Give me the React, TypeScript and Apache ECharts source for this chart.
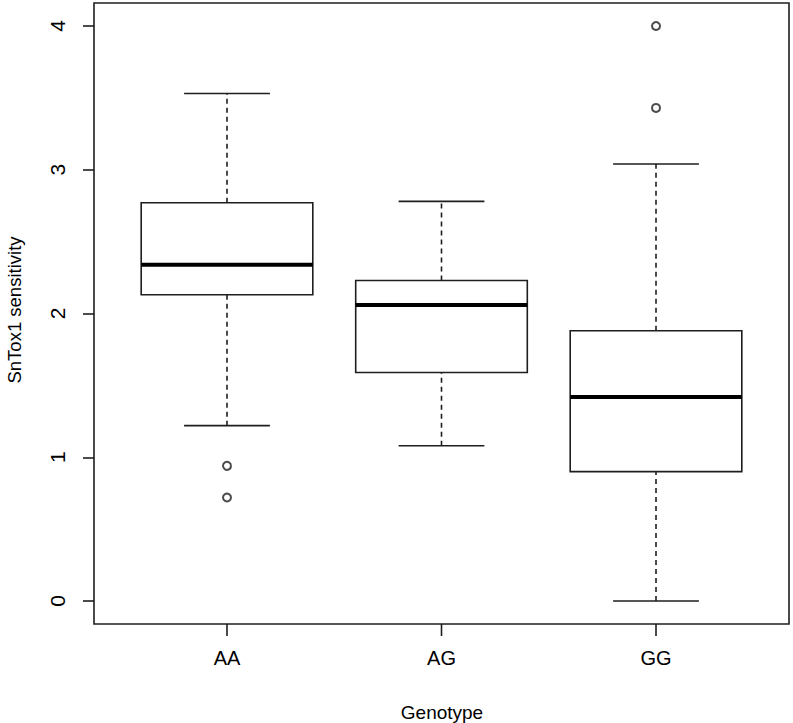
import React, { useEffect, useRef } from "react";
import * as echarts from "echarts";

const categories = ["AA", "AG", "GG"];
const lowerWhisker = [1.22, 1.08, 0.0];
const q1 = [2.13, 1.59, 0.9];
const median = [2.34, 2.06, 1.42];
const q3 = [2.77, 2.23, 1.88];
const upperWhisker = [3.53, 2.78, 3.04];
const outlierGroup = [1, 1, 3, 3];
const outlierValues = [0.94, 0.72, 4.0, 3.43];
const yTicks = [0, 1, 2, 3, 4];
const xTicks = [1, 2, 3];

const X_MIN = 0.38;
const X_MAX = 3.62;
const Y_MIN = -0.16;
const Y_MAX = 4.16;
const INK = "#1e1e1e";
const FONT = "'Liberation Sans', Arial, sans-serif";

export default function App() {
  const ref = useRef<HTMLDivElement>(null);

  useEffect(() => {
    if (!ref.current) return;
    const chart = echarts.init(ref.current, null, { renderer: "svg" });

    const boxData = categories.map((_, i) => [
      i + 1,
      lowerWhisker[i],
      q1[i],
      median[i],
      q3[i],
      upperWhisker[i],
    ]);
    const outlierData = outlierValues.map((v, i) => [outlierGroup[i], v]);

    const renderItem = (params: any, api: any) => {
      const x = api.value(0);
      const lo = api.coord([x, api.value(1)]);
      const b1 = api.coord([x, api.value(2)]);
      const md = api.coord([x, api.value(3)]);
      const b3 = api.coord([x, api.value(4)]);
      const hi = api.coord([x, api.value(5)]);
      const half = api.size([0.8, 0])[0] / 2;
      const capHalf = half / 2;
      const cx = lo[0];
      const solid = () => ({ stroke: INK, lineWidth: 1.6, fill: "none" });
      const dashed = () => ({ stroke: INK, lineWidth: 1.6, lineDash: [5, 4], fill: "none" });
      return {
        type: "group",
        children: [
          { type: "line", shape: { x1: cx, y1: lo[1], x2: cx, y2: b1[1] }, style: dashed() },
          { type: "line", shape: { x1: cx, y1: b3[1], x2: cx, y2: hi[1] }, style: dashed() },
          { type: "line", shape: { x1: cx - capHalf, y1: lo[1], x2: cx + capHalf, y2: lo[1] }, style: solid() },
          { type: "line", shape: { x1: cx - capHalf, y1: hi[1], x2: cx + capHalf, y2: hi[1] }, style: solid() },
          {
            type: "rect",
            shape: { x: cx - half, y: b3[1], width: half * 2, height: b1[1] - b3[1] },
            style: { stroke: INK, lineWidth: 1.6, fill: "#ffffff" },
          },
          {
            type: "line",
            shape: { x1: cx - half, y1: md[1], x2: cx + half, y2: md[1] },
            style: { stroke: "#000", lineWidth: 4 },
          },
        ],
      };
    };

    // tick marks live in a thin second grid directly under the frame
    const renderTick = (params: any, api: any) => {
      const x = api.value(0);
      const top = api.coord([x, 1]);
      const bottom = api.coord([x, 0]);
      return {
        type: "rect",
        shape: { x: top[0] - 0.8, y: top[1], width: 1.6, height: bottom[1] - top[1] },
        style: { fill: INK },
      };
    };

    chart.setOption({
      animation: false,
      backgroundColor: "#ffffff",
      textStyle: { fontFamily: FONT },
      grid: [
        {
          left: 94,
          right: 4,
          top: 3,
          bottom: 99,
          show: true,
          borderColor: INK,
          borderWidth: 1.6,
          backgroundColor: "transparent",
        },
        {
          left: 94,
          right: 4,
          top: 624,
          height: 12,
          show: false,
        },
      ],
      xAxis: [
        {
          type: "value",
          gridIndex: 0,
          position: "bottom",
          min: X_MIN,
          max: X_MAX,
          splitLine: { show: false },
          axisLine: { show: false, onZero: false },
          axisTick: { show: false },
          axisLabel: {
            customValues: xTicks,
            formatter: (v: number) => categories[Math.round(v) - 1] ?? "",
            margin: 24,
            fontSize: 20,
            color: "#000",
            fontFamily: FONT,
          },
        },
        {
          type: "value",
          gridIndex: 1,
          min: X_MIN,
          max: X_MAX,
          show: false,
        },
      ],
      yAxis: [
        {
          type: "value",
          gridIndex: 0,
          position: "left",
          min: Y_MIN,
          max: Y_MAX,
          splitLine: { show: false },
          axisLine: { show: false, onZero: false },
          axisTick: {
            show: true,
            inside: false,
            customValues: yTicks,
            length: 11,
            lineStyle: { color: INK, width: 1.6 },
          },
          axisLabel: {
            customValues: yTicks,
            rotate: 90,
            margin: 26,
            fontSize: 21,
            color: "#000",
            fontFamily: FONT,
            formatter: (v: number) => String(v),
          },
        },
        {
          type: "value",
          gridIndex: 1,
          min: 0,
          max: 1,
          show: false,
        },
      ],
      graphic: [
        {
          type: "text",
          x: 442,
          y: 712,
          style: {
            text: "Genotype",
            fontSize: 19,
            fontFamily: FONT,
            fill: "#000",
            textAlign: "center",
            textVerticalAlign: "middle",
          },
        },
        {
          type: "text",
          x: 14,
          y: 310,
          rotation: Math.PI / 2,
          style: {
            text: "SnTox1 sensitivity",
            fontSize: 18.5,
            fontFamily: FONT,
            fill: "#000",
            textAlign: "center",
            textVerticalAlign: "middle",
          },
        },
      ],
      series: [
        {
          type: "custom",
          xAxisIndex: 0,
          yAxisIndex: 0,
          renderItem,
          data: boxData,
          encode: { x: 0, y: [1, 2, 3, 4, 5] },
          clip: false,
          z: 2,
        },
        {
          type: "scatter",
          xAxisIndex: 0,
          yAxisIndex: 0,
          data: outlierData,
          symbol: "emptyCircle",
          symbolSize: 8,
          itemStyle: { color: INK, borderColor: INK, borderWidth: 1.4 },
          z: 3,
        },
        {
          type: "custom",
          xAxisIndex: 1,
          yAxisIndex: 1,
          renderItem: renderTick,
          data: xTicks.map((t) => [t, 0]),
          encode: { x: 0, y: 1 },
          clip: false,
          silent: true,
          z: 50,
        },
      ],
    });

    return () => chart.dispose();
  }, []);

  return (
    <div
      ref={ref}
      style={{ position: "fixed", left: 0, top: 0, width: 793, height: 723, background: "#fff" }}
    />
  );
}
